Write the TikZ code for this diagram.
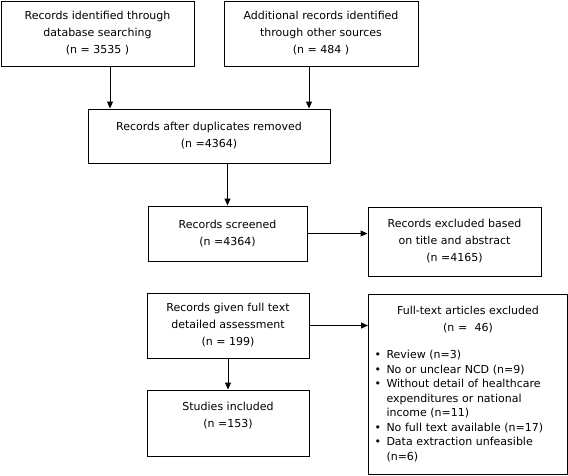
\documentclass[tikz,border=0pt]{standalone}
\usepackage{fontspec}
\setmainfont{DejaVu Sans}
\usetikzlibrary{arrows.meta,positioning}
\tikzset{
  record/.style={draw,line width=1pt,align=center,inner sep=2pt,
    font=\fontsize{11}{17}\selectfont},
  arrow/.style={-{Triangle[length=7pt,width=6pt]},line width=1pt}
}
\newcommand{\exclbullet}{\makebox[12pt][l]{\textbullet}}

\begin{document}
\begin{tikzpicture}[x=1pt,y=-1pt]
  \useasboundingbox (0,0) rectangle (568,475);
  % identification
  \node[record,minimum width=193pt,minimum height=65pt] (dbsearch) at (97.5,33.5)
    {Records identified through\\database searching\\(n = 3535 )};
  \node[record,minimum width=194pt,minimum height=65pt] (othersrc) at (321,33.5)
    {Additional records identified\\through other sources\\(n = 484 )};
  \node[record,minimum width=242pt,minimum height=54pt] (dedup) at (209,136)
    {Records after duplicates removed\\(n =4364)};
  % screening
  \node[record,minimum width=159pt,minimum height=55pt] (screened) at (227.5,233.5)
    {Records screened\\(n =4364)};
  \node[record,minimum width=173pt,minimum height=69pt] (screxcl) at (454.5,241.5)
    {Records excluded based\\on title and abstract\\(n =4165)};
  % eligibility
  \node[record,minimum width=162pt,minimum height=65pt] (fulltext) at (228,325.5)
    {Records given full text\\detailed assessment\\(n = 199)};
  \node[record,anchor=north west,text width=187pt,inner xsep=6pt,
    minimum height=180pt,align=left] (ftexcl) at (368,293.5)
    {{\centering Full-text articles excluded\\(n =\ \ 46)\par}
     \vspace{13pt}
     {\fontsize{11}{14.5}\selectfont\noindent
      \exclbullet Review (n=3)\newline
      \exclbullet No or unclear NCD (n=9)\newline
      \exclbullet Without detail of healthcare\newline
      \hspace*{12pt}expenditures or national\newline
      \hspace*{12pt}income (n=11)\newline
      \exclbullet No full text available (n=17)\newline
      \exclbullet Data extraction unfeasible\newline
      \hspace*{12pt}(n=6)\par}};
  % included
  \node[record,minimum width=162pt,minimum height=66pt,text depth=17pt] (included) at (228,423)
    {Studies included\\(n =153)};
  % connectors
  \draw[arrow] ([xshift=12.5pt]dbsearch.south) -- ([xshift=12.5pt]dbsearch.south |- dedup.north);
  \draw[arrow] ([xshift=-12pt]othersrc.south) -- ([xshift=-12pt]othersrc.south |- dedup.north);
  \draw[arrow] (dedup.south -| screened.north) -- (screened.north);
  \draw[arrow] (screened.east) -- (screened.east -| screxcl.west);
  \draw[arrow] (fulltext.east) -- (fulltext.east -| ftexcl.west);
  \draw[arrow] (fulltext.south) -- (included.north);
\end{tikzpicture}
\end{document}
